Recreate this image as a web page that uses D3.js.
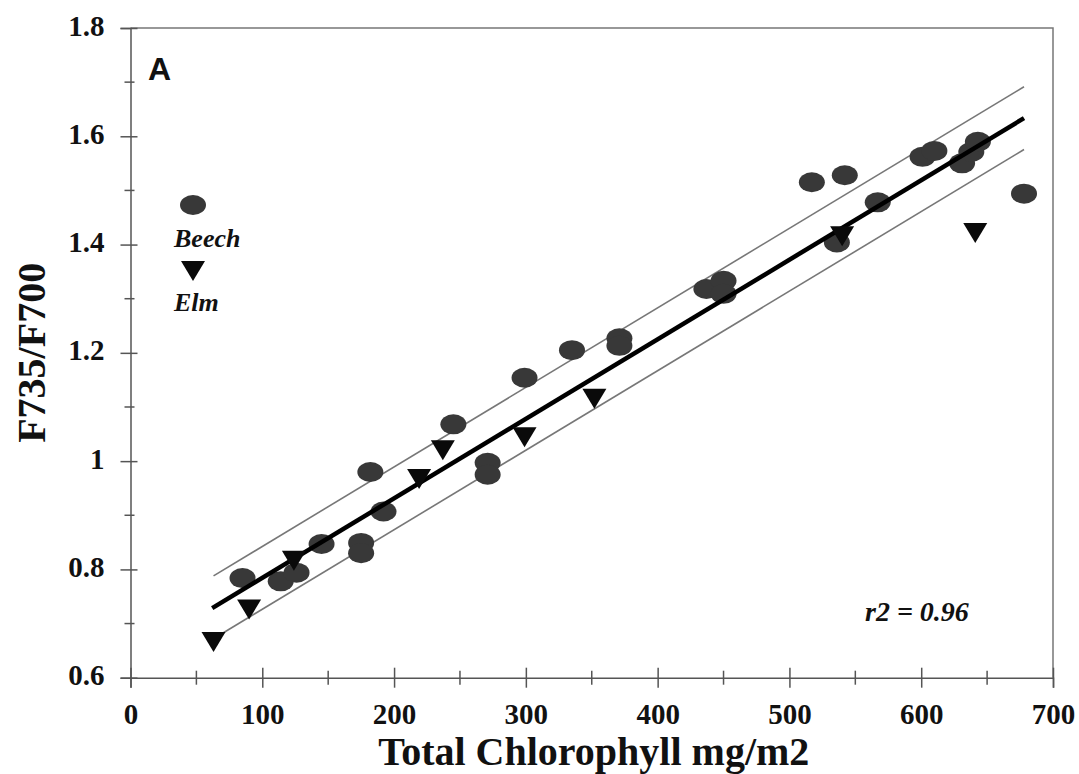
<!DOCTYPE html>
<html>
<head>
<meta charset="utf-8">
<script src="https://cdn.jsdelivr.net/npm/d3@7"></script>
<style>
  body { margin: 0; background: #fff; }
  svg { display: block; }
  .serif { font-family: "Liberation Serif", "Times New Roman", serif; font-weight: bold; fill: #111; }
</style>
</head>
<body>
<div id="chart"></div>
<script>
// data
const beechX = [85, 114, 126, 145, 175, 175, 182, 192, 245, 271, 271, 299, 335, 371, 371, 437, 450, 450, 517, 536, 542, 567, 601, 610, 631, 638, 643, 678];
const beechY = [0.784, 0.778, 0.794, 0.847, 0.849, 0.830, 0.980, 0.907, 1.068, 0.997, 0.975, 1.154, 1.205, 1.227, 1.213, 1.318, 1.333, 1.309, 1.515, 1.404, 1.528, 1.478, 1.562, 1.573, 1.550, 1.571, 1.590, 1.494];
const elmX = [63, 90, 124, 219, 237, 299, 352, 540, 641];
const elmY = [0.668, 0.728, 0.818, 0.969, 1.022, 1.046, 1.117, 1.417, 1.423];

// regression line and its band
const fitSlope = 0.001469;
const fitIntercept = 0.6375;
const bandOffset = 0.058;
const fitRange = [62, 678];
const upperRange = [63, 678];
const lowerRange = [68, 678];

const xTicks = [0, 100, 200, 300, 400, 500, 600, 700];
const xMinor = [50, 150, 250, 350, 450, 550, 650];
const yTicks = [0.6, 0.8, 1, 1.2, 1.4, 1.6, 1.8];
const yMinor = [0.7, 0.9, 1.1, 1.3, 1.5, 1.7];

const width = 1079, height = 774;
const margin = { top: 28, right: 26, bottom: 96, left: 130.5 };

const svg = d3.select("#chart").append("svg")
  .attr("width", width)
  .attr("height", height);

svg.append("rect").attr("width", width).attr("height", height).attr("fill", "#fff");

const x = d3.scaleLinear().domain([0, 700]).range([margin.left, width - margin.right]);
const y = d3.scaleLinear().domain([0.6, 1.8]).range([height - margin.bottom - 0.3, margin.top]);

// frame (top + right, light)
svg.append("path")
  .attr("d", `M${x(0)},${y(1.8)} H${x(700)} V${y(0.6)}`)
  .attr("fill", "none")
  .attr("stroke", "#777")
  .attr("stroke-width", 1.5);

// y axis
const yAxis = svg.append("g")
  .attr("transform", `translate(${x(0)},0)`)
  .call(d3.axisLeft(y).tickValues(yTicks).tickSize(10).tickPadding(0)
    .tickFormat(d => d3.format("")(d)));
yAxis.select(".domain").attr("stroke", "#555").attr("stroke-width", 1.5);
yAxis.selectAll(".tick line").attr("x1", 7).attr("x2", -10).attr("stroke", "#555").attr("stroke-width", 1.5);
yAxis.selectAll(".tick text")
  .attr("class", "serif")
  .attr("x", -26)
  .attr("dy", 7)
  .style("font-size", "29px")
  .attr("font-family", null);
yAxis.selectAll("line.minor")
  .data(yMinor).join("line")
  .attr("class", "minor")
  .attr("x1", -6).attr("x2", 4)
  .attr("y1", d => y(d)).attr("y2", d => y(d))
  .attr("stroke", "#555").attr("stroke-width", 1.5);

// x axis
const xAxis = svg.append("g")
  .attr("transform", `translate(0,${y(0.6)})`)
  .call(d3.axisBottom(x).tickValues(xTicks).tickSize(10).tickPadding(0));
xAxis.select(".domain").attr("stroke", "#555").attr("stroke-width", 1.5);
xAxis.selectAll(".tick line").attr("y1", -10).attr("y2", 10).attr("stroke", "#555").attr("stroke-width", 1.5);
xAxis.selectAll(".tick text")
  .attr("class", "serif")
  .attr("y", 46)
  .attr("dy", 0)
  .style("font-size", "29px")
  .attr("font-family", null);
xAxis.selectAll("line.minor")
  .data(xMinor).join("line")
  .attr("class", "minor")
  .attr("x1", d => x(d)).attr("x2", d => x(d))
  .attr("y1", -7).attr("y2", 7)
  .attr("stroke", "#555").attr("stroke-width", 1.5);

// axis titles
svg.append("text")
  .attr("class", "serif")
  .attr("x", (x(0) + x(700)) / 2 + 2)
  .attr("y", 765)
  .attr("text-anchor", "middle")
  .style("font-size", "40px")
  .text("Total Chlorophyll mg/m2");

svg.append("text")
  .attr("class", "serif")
  .attr("transform", `translate(45,${(y(0.6) + y(1.8)) / 2}) rotate(-90)`)
  .attr("text-anchor", "middle")
  .style("font-size", "40px")
  .text("F735/F700");

// fit lines
const line = d3.line().x(d => x(d[0])).y(d => y(d[1]));
const fitLine = (range, off) => range.map(v => [v, fitIntercept + fitSlope * v + off]);

svg.append("path").datum(fitLine(upperRange, bandOffset))
  .attr("d", line).attr("fill", "none").attr("stroke", "#777").attr("stroke-width", 1.6);
svg.append("path").datum(fitLine(lowerRange, -bandOffset))
  .attr("d", line).attr("fill", "none").attr("stroke", "#777").attr("stroke-width", 1.6);

// beech (ellipses)
const beech = beechX.map((v, i) => [v, beechY[i]]);
svg.append("g").selectAll("ellipse")
  .data(beech).join("ellipse")
  .attr("cx", d => x(d[0]))
  .attr("cy", d => y(d[1]))
  .attr("rx", 13)
  .attr("ry", 10)
  .attr("fill", "#383838");

svg.append("path").datum(fitLine(fitRange, 0))
  .attr("d", line).attr("fill", "none").attr("stroke", "#000").attr("stroke-width", 4.5);

// elm (down triangles)
const tri = "M-12,-9L12,-9L0,11Z";
const elm = elmX.map((v, i) => [v, elmY[i]]);
svg.append("g").selectAll("path")
  .data(elm).join("path")
  .attr("transform", d => `translate(${x(d[0])},${y(d[1])})`)
  .attr("d", tri)
  .attr("fill", "#0a0a0a");

// panel letter
svg.append("text")
  .attr("x", 148).attr("y", 80)
  .style("font-family", "'Liberation Sans', Arial, sans-serif")
  .style("font-weight", "bold")
  .style("font-size", "32px")
  .attr("fill", "#111")
  .text("A");

// legend
const legend = svg.append("g").attr("transform", "translate(193,205)");
legend.append("ellipse").attr("rx", 13).attr("ry", 10).attr("fill", "#383838");
legend.append("text").attr("class", "serif").attr("x", -19).attr("y", 42)
  .style("font-style", "italic").style("font-size", "26px").text("Beech");
legend.append("path").attr("transform", "translate(0,65)").attr("d", tri).attr("fill", "#0a0a0a");
legend.append("text").attr("class", "serif").attr("x", -19).attr("y", 106)
  .style("font-style", "italic").style("font-size", "26px").text("Elm");

// r2
svg.append("text")
  .attr("class", "serif")
  .attr("x", 865).attr("y", 621)
  .style("font-style", "italic")
  .style("font-size", "28px")
  .text("r2 = 0.96");
</script>
</body>
</html>
